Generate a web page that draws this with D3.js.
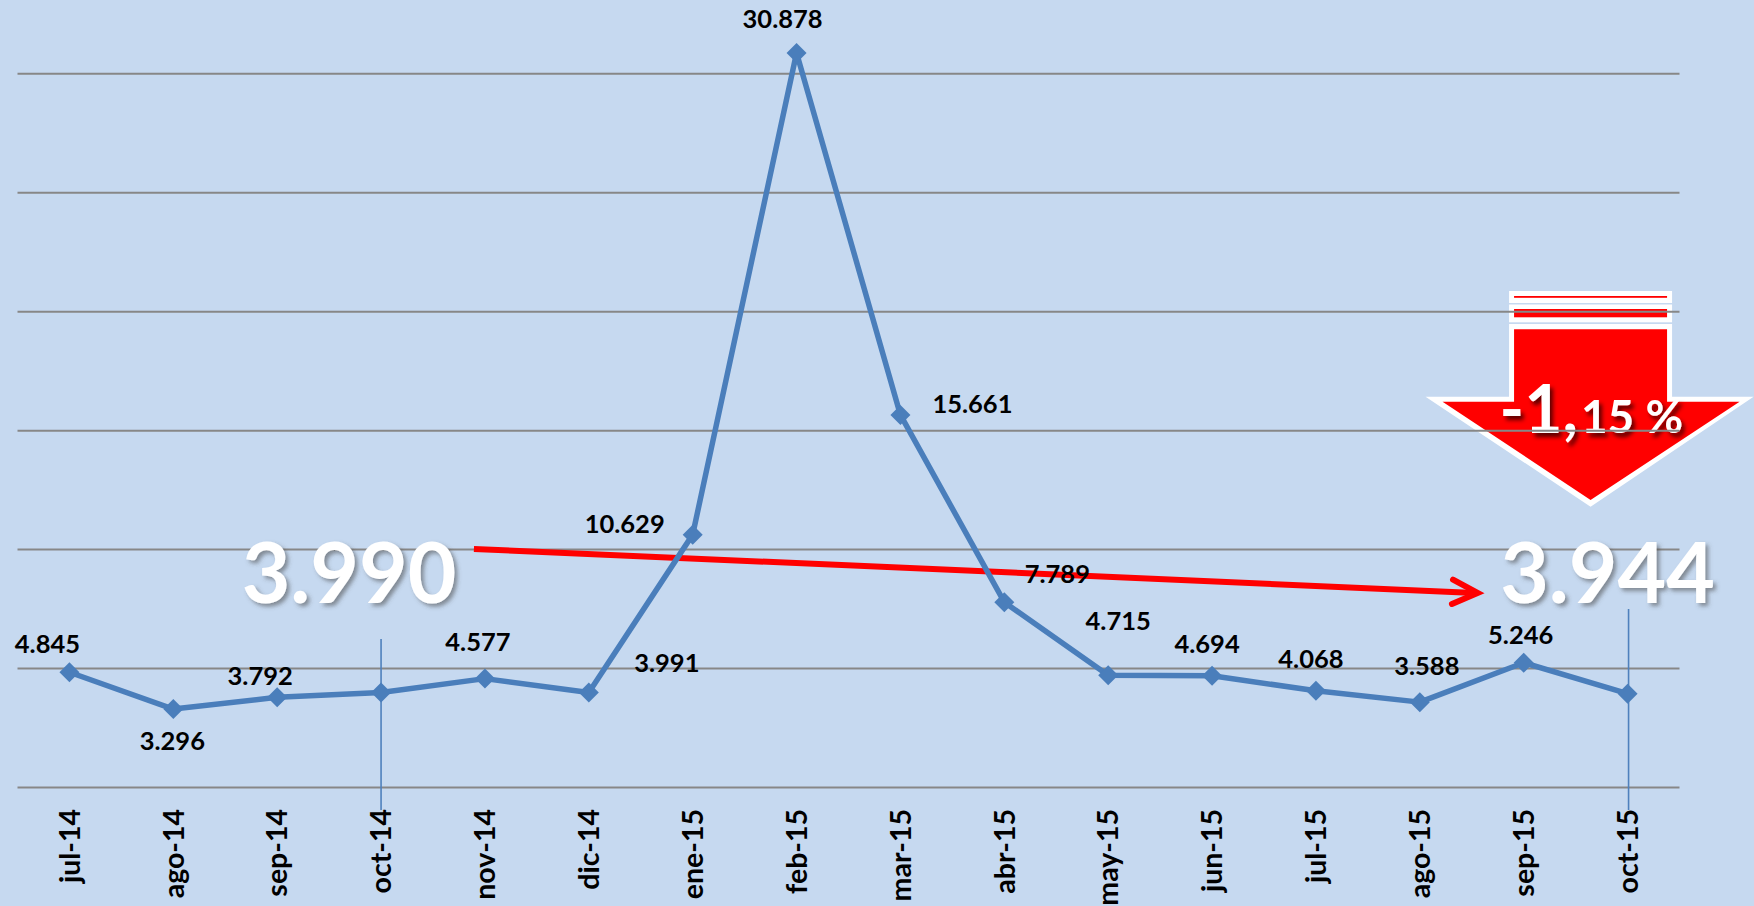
<!DOCTYPE html>
<html>
<head>
<meta charset="utf-8">
<script src="https://cdn.jsdelivr.net/npm/d3@7"></script>
<style>
  html, body { margin: 0; padding: 0; background: #C6D9F0; }
  svg { display: block; }
  text { font-family: Lato, "Open Sans", sans-serif; font-weight: 700; }
</style>
</head>
<body>
<svg id="chart" width="1754" height="906"></svg>
<script>
// ---- data ----
const categories = ["jul-14","ago-14","sep-14","oct-14","nov-14","dic-14","ene-15","feb-15","mar-15","abr-15","may-15","jun-15","jul-15","ago-15","sep-15","oct-15"];
const values = [4845, 3296, 3792, 3990, 4577, 3991, 10629, 30878, 15661, 7789, 4715, 4694, 4068, 3588, 5246, 3944];
const showLabel = [true, true, true, false, true, true, true, true, true, true, true, true, true, true, true, false];
const gridTicks = [0, 5000, 10000, 15000, 20000, 25000, 30000];
const startCategory = "oct-14";
const endCategory = "oct-15";
const startValue = 3990;
const endValue = 3944;
const changeMain = "-1,";
const changeSmall = "15 %";
// trend annotation anchors (category + fraction of step, value)
const trendFrom = { cat: "oct-14", frac: 0.894, value: 10030 };
const trendTo = { cat: "ago-15", frac: 0.557, value: 8180 };

// ---- layout (label offsets from their point, px) ----
const labelOffsets = [[-22,-19],[-1,41],[-17,-12],[0,0],[-7,-28],[78,-21],[-68,-2],[-14,-25],[72,-2],[53,-19],[10,-45],[-5,-23],[-5,-23],[7,-27],[-3,-19],[0,0]];

const svg = d3.select("#chart");
const W = 1754, H = 906;

const x = d3.scaleBand().domain(categories).range([17.5, 1679.5]).padding(0);
const cx = c => x(c) + x.bandwidth() / 2;
const y = d3.scaleLinear().domain([0, 30000]).range([787.5, 73.8]);
const fmt = d3.formatLocale({ decimal: ",", thousands: ".", grouping: [3], currency: ["", ""] }).format(",d");

const defs = svg.append("defs");
const f1 = defs.append("filter").attr("id", "bigShadow").attr("x", "-20%").attr("y", "-20%").attr("width", "140%").attr("height", "140%");
f1.append("feDropShadow").attr("dx", 3).attr("dy", 3).attr("stdDeviation", 2).attr("flood-color", "#4a4a4a").attr("flood-opacity", 0.55);
const f2 = defs.append("filter").attr("id", "arrowShadow").attr("x", "-20%").attr("y", "-20%").attr("width", "140%").attr("height", "140%");
f2.append("feDropShadow").attr("dx", 3).attr("dy", 4).attr("stdDeviation", 2).attr("flood-color", "#000").attr("flood-opacity", 0.65);

svg.append("rect").attr("width", W).attr("height", H).attr("fill", "#C6D9F0");

// ---- red down arrow (behind gridlines) ----
const ax = cx(endCategory) - 37; // arrow centre x
const arrow = svg.append("g");
const shaftL = ax - 81.5, shaftR = ax + 81.5;
// stripes
arrow.append("rect").attr("x", shaftL).attr("y", 291).attr("width", shaftR - shaftL).attr("height", 12).attr("fill", "#fff");
arrow.append("rect").attr("x", shaftL + 5).attr("y", 296).attr("width", shaftR - shaftL - 10).attr("height", 1.8).attr("fill", "#f00");
arrow.append("rect").attr("x", shaftL).attr("y", 304.5).attr("width", shaftR - shaftL).attr("height", 17.8).attr("fill", "#fff");
arrow.append("rect").attr("x", shaftL + 5).attr("y", 309).attr("width", shaftR - shaftL - 10).attr("height", 8.3).attr("fill", "#f00");
// outer white body
const outer = [[shaftL, 324], [shaftR, 324], [shaftR, 396.7], [ax + 163, 396.7], [ax, 506.7], [ax - 165, 396.7], [shaftL, 396.7]];
const inner = [[shaftL + 5, 329.3], [shaftR - 5, 329.3], [shaftR - 5, 401.7], [ax + 149, 401.7], [ax, 500], [ax - 148, 401.7], [shaftL + 5, 401.7]];
arrow.append("path").attr("d", d3.line()(outer) + "Z").attr("fill", "#fff");
arrow.append("path").attr("d", d3.line()(inner) + "Z").attr("fill", "#f00");
const at = arrow.append("text").attr("x", ax - 91).attr("y", 433).attr("fill", "#fff").attr("filter", "url(#arrowShadow)");
at.append("tspan").attr("font-size", 66).text(changeMain);
at.append("tspan").attr("font-size", 46).attr("dx", 3).text(changeSmall);

// ---- gridlines ----
svg.append("g").selectAll("line").data(gridTicks).join("line")
  .attr("x1", x.range()[0]).attr("x2", x.range()[1])
  .attr("y1", d => y(d)).attr("y2", d => y(d))
  .attr("stroke", "#878787").attr("stroke-width", 2);

// ---- vertical markers at start / end ----
svg.append("line").attr("x1", cx(startCategory)).attr("x2", cx(startCategory)).attr("y1", 639).attr("y2", 810)
  .attr("stroke", "#4F81BD").attr("stroke-width", 1.6);
svg.append("line").attr("x1", cx(endCategory) + 1).attr("x2", cx(endCategory) + 1).attr("y1", 609).attr("y2", 810)
  .attr("stroke", "#4F81BD").attr("stroke-width", 1.6);

// ---- red trend arrow ----
const tx1 = x(trendFrom.cat) + x.bandwidth() / 2 + trendFrom.frac * x.step();
const ty1 = y(trendFrom.value);
const tx2 = x(trendTo.cat) + x.bandwidth() / 2 + trendTo.frac * x.step();
const ty2 = y(trendTo.value);
svg.append("line").attr("x1", tx1).attr("y1", ty1).attr("x2", tx2 - 3).attr("y2", ty2)
  .attr("stroke", "#f00").attr("stroke-width", 6);
const ang = Math.atan2(ty2 - ty1, tx2 - tx1);
const hl = 28, ha = 0.45;
svg.append("path")
  .attr("d", d3.line()([
    [tx2 - hl * Math.cos(ang - ha), ty2 - hl * Math.sin(ang - ha)],
    [tx2, ty2],
    [tx2 - hl * Math.cos(ang + ha), ty2 - hl * Math.sin(ang + ha)]
  ]))
  .attr("fill", "none").attr("stroke", "#f00").attr("stroke-width", 6)
  .attr("stroke-linecap", "round").attr("stroke-linejoin", "miter");

// ---- series line ----
const pts = categories.map((c, i) => [cx(c), y(values[i])]);
svg.append("path").attr("d", d3.line()(pts)).attr("fill", "none")
  .attr("stroke", "#4A7EBB").attr("stroke-width", 5.5).attr("stroke-linejoin", "round");
svg.append("g").selectAll("path").data(pts).join("path")
  .attr("d", d3.symbol().type(d3.symbolSquare).size(200))
  .attr("transform", d => `translate(${d[0]},${d[1]}) rotate(45)`)
  .attr("fill", "#4A7EBB");

// ---- data labels ----
svg.append("g").selectAll("text").data(categories.map((c, i) => i).filter(i => showLabel[i])).join("text")
  .attr("x", i => pts[i][0] + labelOffsets[i][0])
  .attr("y", i => pts[i][1] + labelOffsets[i][1])
  .attr("text-anchor", "middle").attr("font-size", 25.5).attr("fill", "#000")
  .text(i => fmt(values[i]));

// ---- category axis labels ----
svg.append("g").selectAll("text").data(categories).join("text")
  .attr("transform", c => `translate(${cx(c)},809) rotate(-90)`)
  .attr("text-anchor", "end").attr("dy", "0.36em")
  .attr("font-size", 28.5).attr("fill", "#000")
  .text(c => c);

// ---- big start / end values ----
svg.append("text").attr("x", cx(startCategory) - 32).attr("y", y(0) - 184.5)
  .attr("text-anchor", "middle").attr("font-size", 84).attr("fill", "#fff")
  .attr("filter", "url(#bigShadow)").text(fmt(startValue));
svg.append("text").attr("x", cx(endCategory) - 20).attr("y", y(0) - 184.5)
  .attr("text-anchor", "middle").attr("font-size", 84).attr("fill", "#fff")
  .attr("filter", "url(#bigShadow)").text(fmt(endValue));
</script>
</body>
</html>
